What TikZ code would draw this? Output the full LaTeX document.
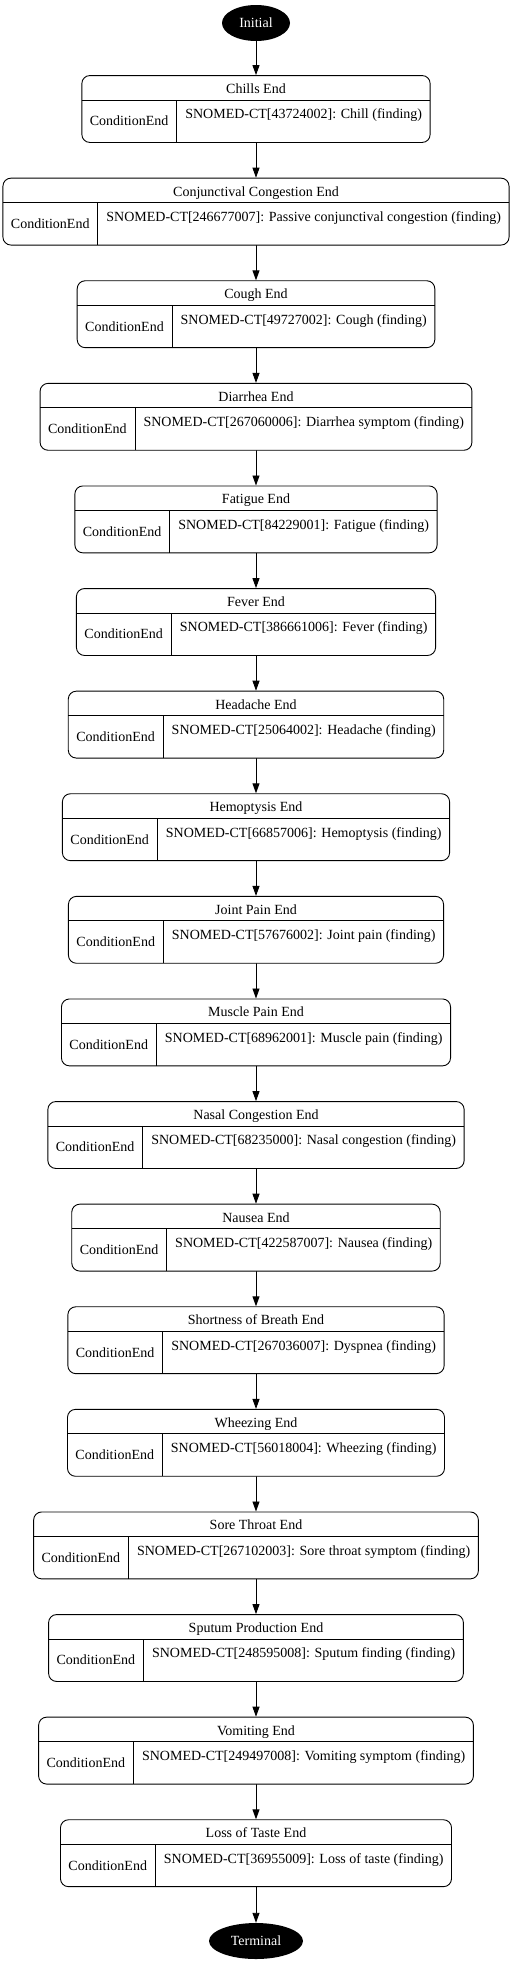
\documentclass[tikz,border=0pt]{standalone}
\usepackage{fontspec}
\setmainfont{Liberation Serif}
\usepackage{array}
\usepackage{tikz}
\usetikzlibrary{arrows.meta,shapes.geometric}
\setlength{\arrayrulewidth}{0.9pt}
\newcommand{\condrec}[2]{\begin{tabular}{@{\hspace{8pt}}c@{\hspace{8pt}}|@{\hspace{8pt}}l@{\hspace{8pt}}}
\multicolumn{2}{c}{\rule[-6pt]{0pt}{24pt}#1}\\\hline
\rule[-16.5pt]{0pt}{42pt}ConditionEnd & \raisebox{7pt}{#2}\end{tabular}}

\begin{document}
\begin{tikzpicture}[line cap=round,line join=round,x=1pt,y=-1pt,>={Triangle[length=10pt,width=7pt]},
  rec/.style={draw,rounded corners=8pt,inner sep=0pt,line width=0.9pt,font=\fontsize{14}{17}\selectfont},
  endpoint/.style={ellipse,fill=black,text=white,inner sep=0pt,minimum height=36pt,font=\fontsize{14}{17}\selectfont},
  flow/.style={->,line width=0.9pt}]
\useasboundingbox (0,0) rectangle (512,1963);
\node[endpoint,minimum width=68pt] (initial) at (256,23) {Initial};
\node[rec] (chills) at (256,109) {\condrec{Chills End}{SNOMED-CT[43724002]: Chill (finding)}};
\node[rec] (conj) at (256,211.6) {\condrec{Conjunctival Congestion End}{SNOMED-CT[246677007]: Passive conjunctival congestion (finding)}};
\node[rec] (cough) at (256,314.2) {\condrec{Cough End}{SNOMED-CT[49727002]: Cough (finding)}};
\node[rec] (diarrhea) at (256,416.8) {\condrec{Diarrhea End}{SNOMED-CT[267060006]: Diarrhea symptom (finding)}};
\node[rec] (fatigue) at (256,519.4) {\condrec{Fatigue End}{SNOMED-CT[84229001]: Fatigue (finding)}};
\node[rec] (fever) at (256,622) {\condrec{Fever End}{SNOMED-CT[386661006]: Fever (finding)}};
\node[rec] (headache) at (256,724.6) {\condrec{Headache End}{SNOMED-CT[25064002]: Headache (finding)}};
\node[rec] (hemoptysis) at (256,827.2) {\condrec{Hemoptysis End}{SNOMED-CT[66857006]: Hemoptysis (finding)}};
\node[rec] (jointpain) at (256,929.8) {\condrec{Joint Pain End}{SNOMED-CT[57676002]: Joint pain (finding)}};
\node[rec] (musclepain) at (256,1032.4) {\condrec{Muscle Pain End}{SNOMED-CT[68962001]: Muscle pain (finding)}};
\node[rec] (nasal) at (256,1135) {\condrec{Nasal Congestion End}{SNOMED-CT[68235000]: Nasal congestion (finding)}};
\node[rec] (nausea) at (256,1237.6) {\condrec{Nausea End}{SNOMED-CT[422587007]: Nausea (finding)}};
\node[rec] (breath) at (256,1340.2) {\condrec{Shortness of Breath End}{SNOMED-CT[267036007]: Dyspnea (finding)}};
\node[rec] (wheezing) at (256,1442.8) {\condrec{Wheezing End}{SNOMED-CT[56018004]: Wheezing (finding)}};
\node[rec] (sorethroat) at (256,1545.4) {\condrec{Sore Throat End}{SNOMED-CT[267102003]: Sore throat symptom (finding)}};
\node[rec] (sputum) at (256,1648) {\condrec{Sputum Production End}{SNOMED-CT[248595008]: Sputum finding (finding)}};
\node[rec] (vomiting) at (256,1750.6) {\condrec{Vomiting End}{SNOMED-CT[249497008]: Vomiting symptom (finding)}};
\node[rec] (taste) at (256,1853.2) {\condrec{Loss of Taste End}{SNOMED-CT[36955009]: Loss of taste (finding)}};
\node[endpoint,minimum width=94pt] (terminal) at (256,1941) {Terminal};
\draw[flow] (initial) -- (chills);
\draw[flow] (chills) -- (conj);
\draw[flow] (conj) -- (cough);
\draw[flow] (cough) -- (diarrhea);
\draw[flow] (diarrhea) -- (fatigue);
\draw[flow] (fatigue) -- (fever);
\draw[flow] (fever) -- (headache);
\draw[flow] (headache) -- (hemoptysis);
\draw[flow] (hemoptysis) -- (jointpain);
\draw[flow] (jointpain) -- (musclepain);
\draw[flow] (musclepain) -- (nasal);
\draw[flow] (nasal) -- (nausea);
\draw[flow] (nausea) -- (breath);
\draw[flow] (breath) -- (wheezing);
\draw[flow] (wheezing) -- (sorethroat);
\draw[flow] (sorethroat) -- (sputum);
\draw[flow] (sputum) -- (vomiting);
\draw[flow] (vomiting) -- (taste);
\draw[flow] (taste) -- (terminal);
\end{tikzpicture}
\end{document}
